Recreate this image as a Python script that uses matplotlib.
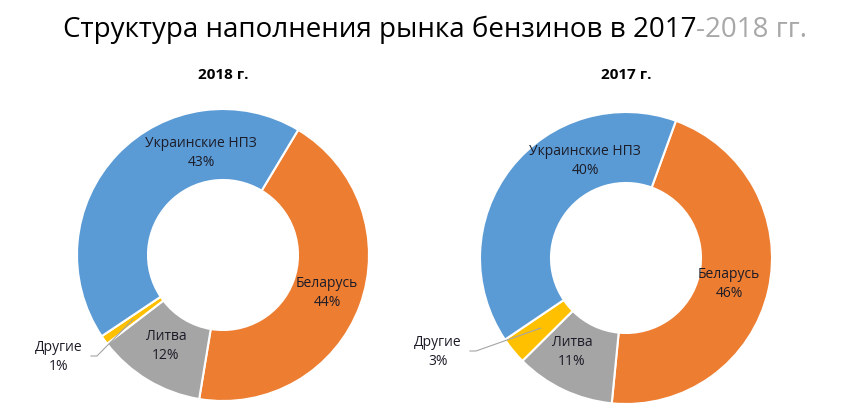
import numpy as np
import matplotlib.pyplot as plt

plt.rcParams['font.family'] = ['Open Sans', 'DejaVu Sans']

title_main = 'Структура наполнения рынка бензинов в 2017'
title_tail = '-2018 гг.'

years = ['2018 г.', '2017 г.']
labels = ['Беларусь', 'Литва', 'Другие', 'Украинские НПЗ']
share_2018 = [44, 12, 1, 43]
share_2017 = [46, 11, 3, 40]
colors = ['#ED7D31', '#A5A5A5', '#FFC000', '#5B9BD5']

W, H = 844, 420
fig = plt.figure(figsize=(W / 100, H / 100), dpi=100)
ax = fig.add_axes([0, 0, 1, 1])
ax.set_xlim(0, W)
ax.set_ylim(0, H)
ax.set_aspect('equal')
ax.axis('off')

# layout: (center x, center y from top, start angle clockwise from 12 o'clock)
layouts = [(223, 255, 31), (626, 258, 20)]
radius = 146
width = 71
# label offsets in px from the donut centre (dx, dy down)
label_offsets = [
    [(104, 38), (-57, 91), (-164, 102), (-22, -102)],
    [(103, 26), (-54, 94), (-188, 94), (-41, -97)],
]

for i, shares in enumerate([share_2018, share_2017]):
    cx, cy, start = layouts[i]
    cy = H - cy
    ax.pie(shares, colors=colors, radius=radius, center=(cx, cy),
           startangle=90 - start, counterclock=False,
           wedgeprops=dict(width=width, edgecolor='white', linewidth=1.5))
    ax.text(cx, H - 75, years[i], ha='center', va='center',
            fontsize=11, fontweight='bold')
    total = sum(shares)
    acc = start
    for j, (lab, v) in enumerate(zip(labels, shares)):
        dx, dy = label_offsets[i][j]
        tx, ty = cx + dx, cy - dy
        ax.text(tx, ty, f'{lab}\n{v}%', ha='center', va='center',
                fontsize=10, linespacing=1.4, color='#1c1c28')
        if lab == 'Другие':
            mid = np.radians(acc + 360 * v / total / 2)
            r = radius - width / 2
            px, py = cx + r * np.sin(mid), cy + r * np.cos(mid)
            ax.plot([tx + 32, tx + 38, px], [ty + 1, ty + 1, py],
                    color='#A5A5A5', lw=0.8)
        acc += 360 * v / total

ax.set_xlim(0, W)
ax.set_ylim(0, H)

t1 = ax.text(63, H - 30, title_main, ha='left', va='center', fontsize=20,
             color='black')
fig.canvas.draw()
bb = t1.get_window_extent()
ax.text(bb.x1, H - 30, title_tail, ha='left', va='center', fontsize=20,
        color='#A8A8A8')

fig.savefig('out.png', dpi=100)
